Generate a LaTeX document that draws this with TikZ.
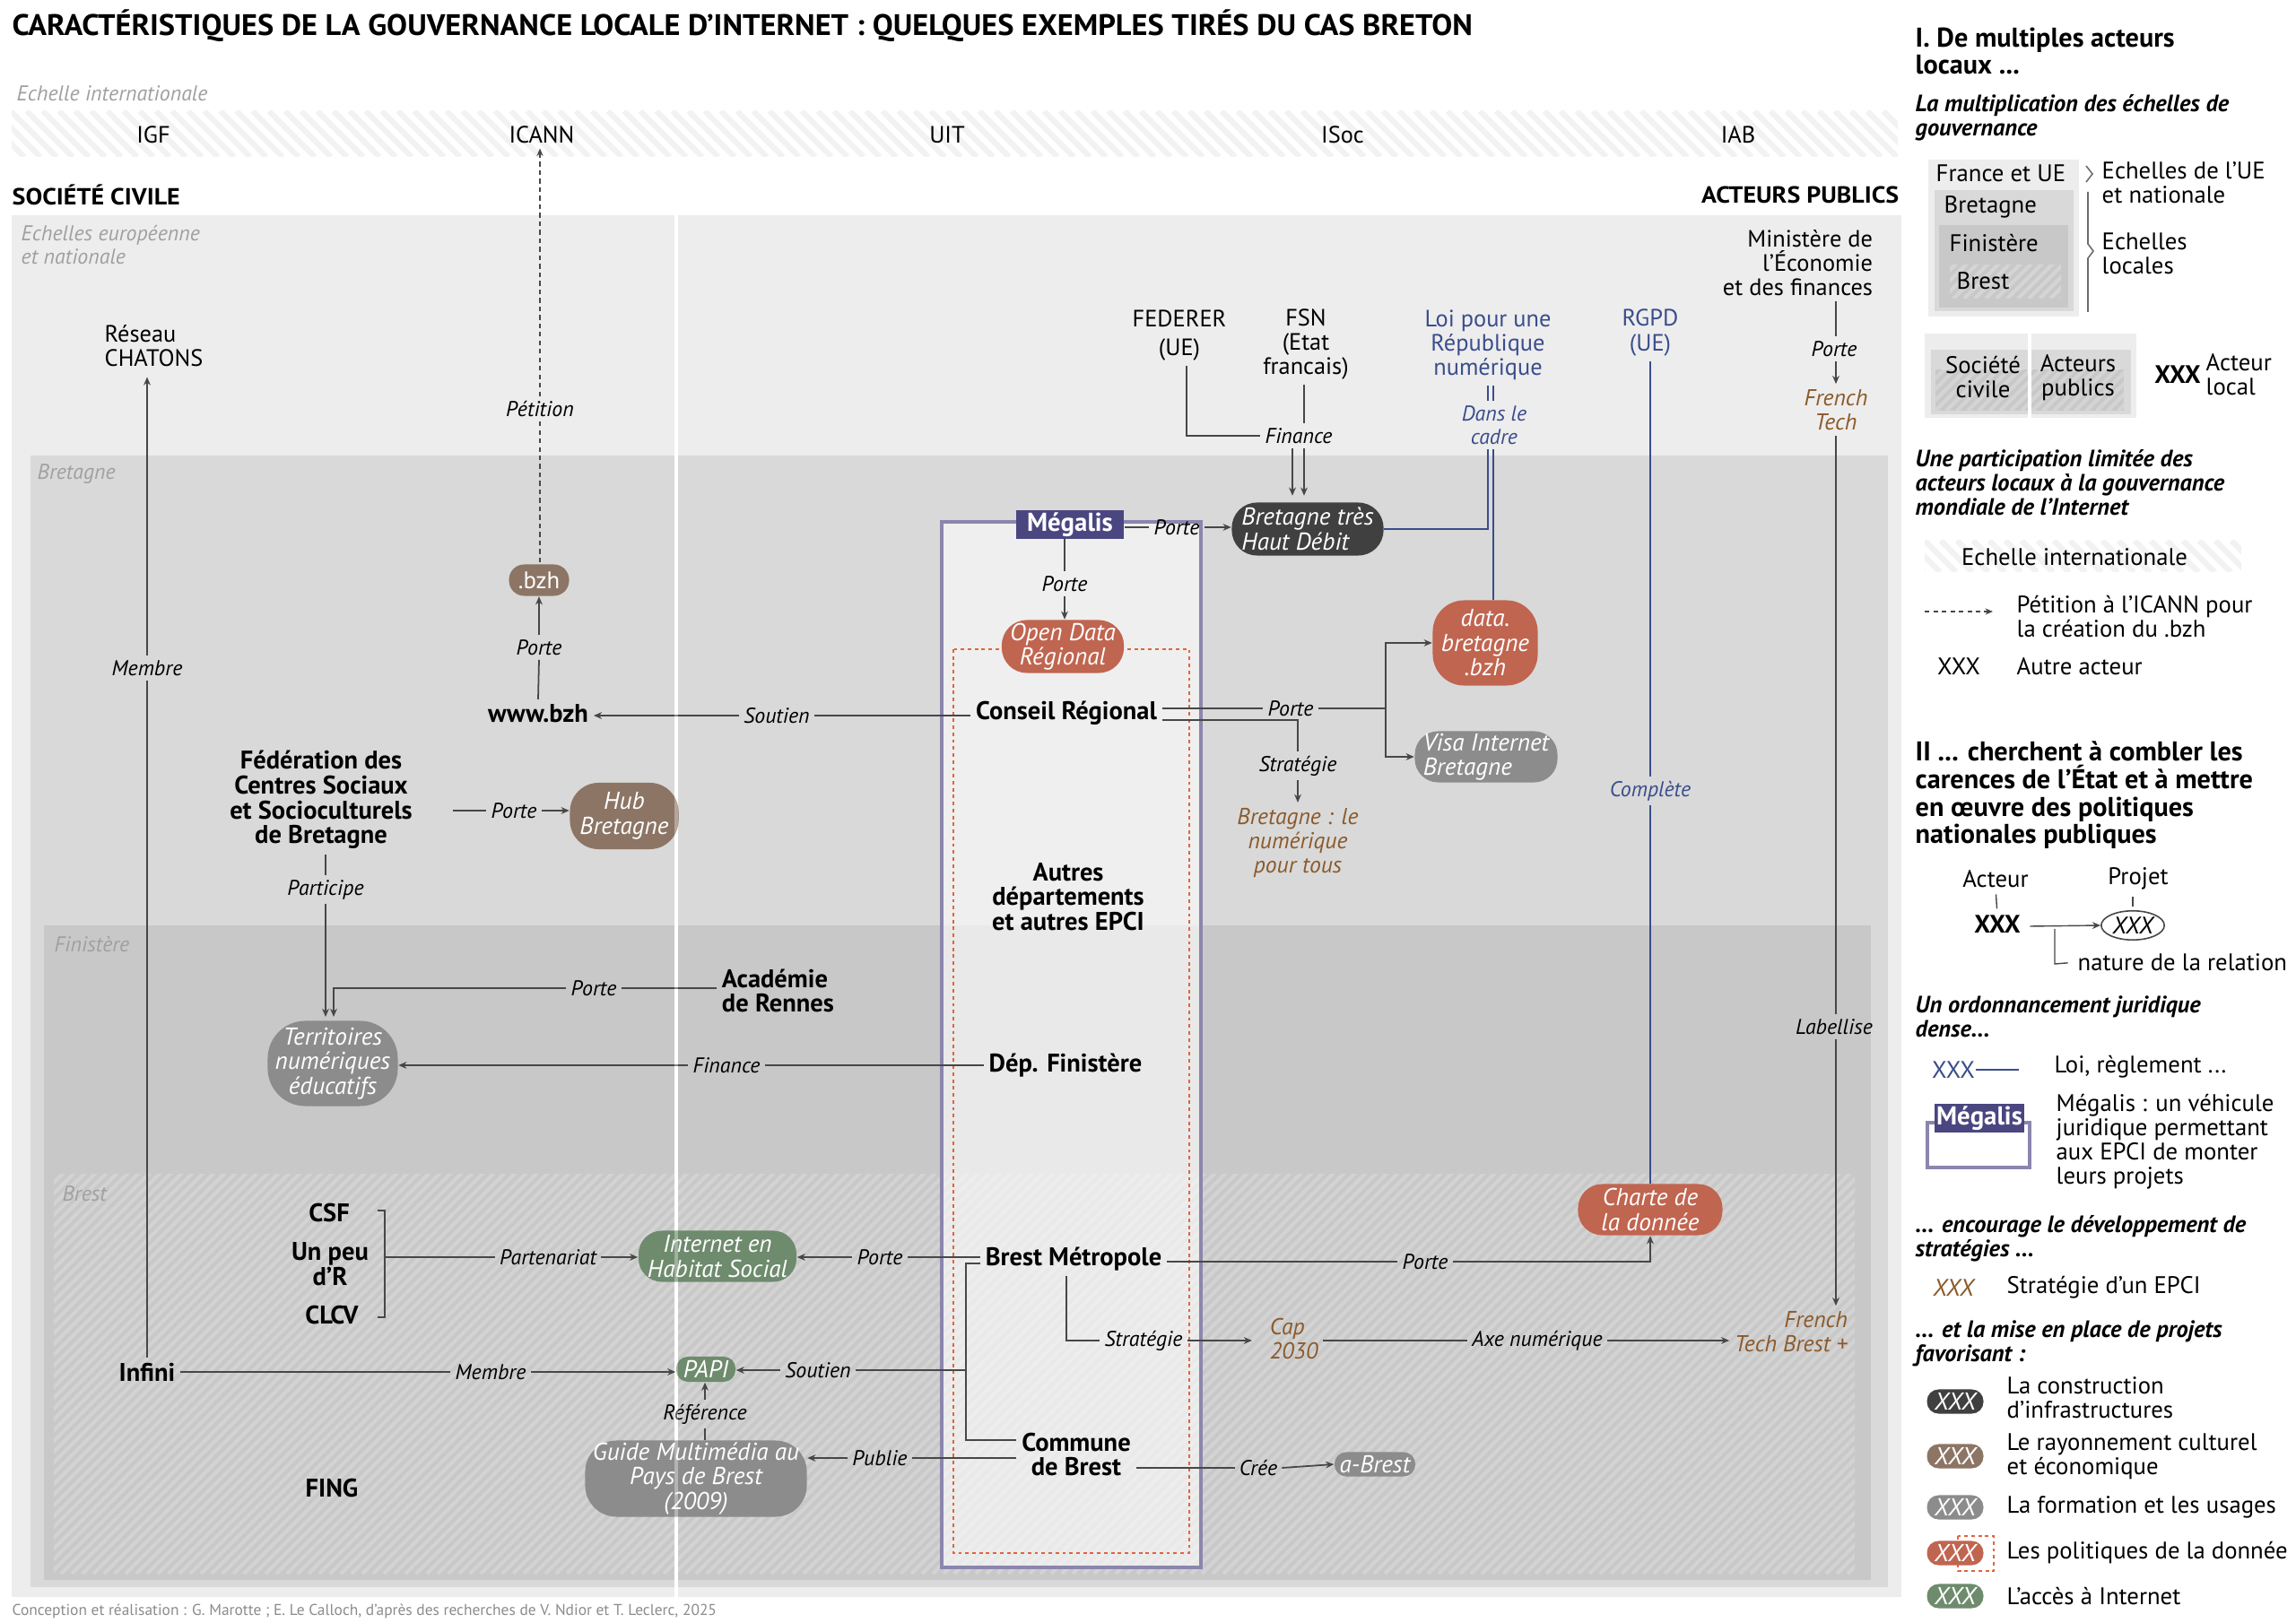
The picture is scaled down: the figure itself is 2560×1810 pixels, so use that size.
\documentclass[tikz,border=0pt]{standalone}
\usepackage{graphicx}
\usepackage{fontspec}
\setmainfont{PT Sans}
\usetikzlibrary{arrows.meta,calc,shapes.geometric}
\def\pxu{0.28453pt}
\definecolor{bgA}{HTML}{EDEDED}
\definecolor{bgB}{HTML}{D9D9D9}
\definecolor{bgC}{HTML}{C8C8C8}
\definecolor{bandS}{HTML}{F2F2F2}
\definecolor{cInfra}{HTML}{404040}
\definecolor{cCult}{HTML}{8C7565}
\definecolor{cForm}{HTML}{8C8C8C}
\definecolor{cData}{HTML}{C06550}
\definecolor{cAcc}{HTML}{6E8B6D}
\definecolor{cLaw}{HTML}{3A4D8C}
\definecolor{cStrat}{HTML}{8B5A2B}
\definecolor{cMeg}{HTML}{4A4680}
\definecolor{cMegL}{HTML}{8A86AE}
\definecolor{cDot}{HTML}{E0653C}
\definecolor{cReg}{HTML}{A0A0A0}
\definecolor{cLine}{HTML}{474747}
\definecolor{cFoot}{HTML}{8C8C8C}
\newcommand\fLab{\fontsize{6.8}{7.4}\selectfont\itshape}
\newcommand\fAct{\fontsize{8.1}{7.9}\selectfont\bfseries}
\newcommand\fOth{\fontsize{7.5}{7.7}\selectfont}
\newcommand\fPill{\fontsize{7.75}{7.8}\selectfont\itshape}
\newcommand\fStr{\fontsize{7.3}{7.8}\selectfont\itshape}
\newcommand\fLeg{\fontsize{7.6}{7.7}\selectfont}
\newcommand\fLegH{\fontsize{8.6}{8.7}\selectfont\bfseries}
\newcommand\fLegS{\fontsize{7.5}{7.7}\selectfont\bfseries\itshape}
\tikzset{
  lbl/.style={font=\fLab, inner sep=1.3pt, text=black},
  act/.style={font=\fAct, align=center, inner sep=1.5pt},
  oth/.style={font=\fOth, align=center, inner sep=1.5pt},
  strat/.style={font=\fStr, text=cStrat, align=center, inner sep=1.5pt},
  law/.style={font=\fOth, text=cLaw, align=center, inner sep=1.5pt},
  pill/.style n args={3}{rectangle, rounded corners=#3*\pxu, minimum width=#1*\pxu, minimum height=#2*\pxu, inner sep=0pt, text=white, align=center, font=\fPill},
  infra/.style={fill=cInfra}, cult/.style={fill=cCult}, form/.style={fill=cForm},
  dat/.style={fill=cData}, acc/.style={fill=cAcc},
  ln/.style={draw=cLine, line width=0.5pt},
  arr/.style={ln, -{Stealth[length=2.6pt,width=2.2pt]}},
  petit/.style={draw=cLine, line width=0.45pt, dash pattern=on 1.5pt off 1.2pt},
  lawln/.style={draw=cLaw, line width=0.55pt},
  reg/.style={font=\fLab, text=cReg, align=left, anchor=west, inner sep=0pt},
  leg/.style={font=\fLeg, align=left, anchor=west, inner sep=0pt},
  legH/.style={font=\fLegH, align=left, anchor=west, inner sep=0pt},
  legS/.style={font=\fLegS, align=left, anchor=west, inner sep=0pt},
}
\begin{document}
\begin{tikzpicture}[x=0.01cm,y=-0.01cm]
\useasboundingbox (0,0) rectangle (2560,1810);
\fill[white] (0,0) rectangle (2560,1810);

% ---------- title and international band
\node[anchor=west, inner sep=0, font=\fontsize{9.4}{10}\selectfont\bfseries] (title) at (13,29)
  {\resizebox{463pt}{\height}{CARACTÉRISTIQUES DE LA GOUVERNANCE LOCALE D’INTERNET : QUELQUES EXEMPLES TIRÉS DU CAS BRETON}};
\node[reg] (lint) at (18,104) {Echelle internationale};
\begin{scope}
  \clip (13,124) rectangle (2116,175);
  \foreach \i in {-60,-42,...,2116} \draw[bandS, line width=1.8pt] (\i,124) -- ++(51,51);
\end{scope}
\node[oth] (igf) at (171,150) {IGF};
\node[oth] (icann) at (604,150) {ICANN};
\node[oth] (uit) at (1056,150) {UIT};
\node[oth] (isoc) at (1497,150) {ISoc};
\node[oth] (iab) at (1938,150) {IAB};

\node[anchor=west, inner sep=0, font=\fontsize{7.4}{8}\selectfont\bfseries] (socciv) at (13,217) {\resizebox{53.2pt}{\height}{SOCIÉTÉ CIVILE}};
\node[anchor=east, inner sep=0, font=\fontsize{7.4}{8}\selectfont\bfseries] (actpub) at (2118,217) {\resizebox{62.6pt}{\height}{ACTEURS PUBLICS}};

% ---------- nested scale panels
\fill[bgA] (13,240) rectangle (2120,1781);
\fill[bgB] (34,508) rectangle (2105,1770);
\fill[bgC] (49,1032) rectangle (2086,1762);
\begin{scope}
  \clip (60,1309) rectangle (2068,1755);
  \foreach \i in {-460,-448,...,2068} \draw[white, opacity=0.2, line width=1.2pt] (\i,1755) -- ++(460,-460);
\end{scope}
\node[reg] (leur) at (23,273) {Echelles européenne\\et nationale};
\node[reg] (lbre) at (41,529) {Bretagne};
\node[reg] (lfin) at (60,1053) {Finistère};
\node[reg] (lbst) at (69,1331) {Brest};

% ---------- civil society / public actors separator
\draw[white, line width=1.4pt] (754,240) -- (754,1781);

% ---------- Megalis frame and data frame
\draw[cMegL, line width=1.2pt, fill=white, fill opacity=0.6] (1050,582) rectangle (1339,1748);
\draw[cDot, line width=0.6pt, dash pattern=on 1.1pt off 1.1pt] (1063,724) rectangle (1326,1732);
\node[fill=cMeg, text=white, font=\fontsize{8.2}{8}\selectfont\bfseries, minimum width=120*\pxu, minimum height=31*\pxu, inner sep=0pt] (megalis) at (1193,585) {Mégalis};

% ---------- actors and projects
\node[oth, align=left, anchor=west, inner sep=0pt] (chatons) at (116,386) {Réseau\\CHATONS};
\node[pill={67}{35}{17}, cult, font=\fontsize{7.6}{7.8}\selectfont] (bzh) at (601,647) {.bzh};
\node[act] (www) at (600,796) {www.bzh};
\node[act] (fed) at (358,892) {Fédération des\\Centres Sociaux\\et Socioculturels\\de Bretagne};
\node[pill={121}{74}{32}, cult] (hub) at (696,910) {Hub\\Bretagne};
\node[act, align=left, anchor=west] (acad) at (799,1105) {Académie\\de Rennes};
\node[pill={145}{95}{42}, form] (terr) at (371,1186) {Territoires\\numériques\\éducatifs};
\node[act] (depfin) at (1188,1188) {Dép. Finistère};
\node[act] (autres) at (1191,1000) {Autres\\départements\\et autres EPCI};
\node[act] (conseil) at (1189,795) {Conseil Régional};
\node[pill={136}{59}{28}, dat] (odr) at (1185,721) {Open Data\\Régional};
\node[pill={169}{59}{28}, infra, align=left] (bthd) at (1458,590) {Bretagne très\\Haut Débit};
\node[oth] (federer) at (1315,374) {FEDERER\\[1.5pt](UE)};
\node[oth] (fsn) at (1456,384) {FSN\\(Etat\\francais)};
\node[law] (loi) at (1659,385) {Loi pour une\\République\\numérique};
\node[lbl, text=cLaw, align=center] (dans) at (1666,474) {Dans le\\cadre};
\node[pill={117}{95}{35}, dat] (data) at (1656,717) {data.\\bretagne\\.bzh};
\node[pill={159}{57}{26}, form, align=left] (visa) at (1657,844) {Visa Internet\\Bretagne};
\node[strat] (bnpt) at (1447,940) {Bretagne : le\\numérique\\pour tous};
\node[law] (rgpd) at (1840,371) {RGPD\\(UE)};
\node[pill={161}{57}{27}, dat] (charte) at (1840,1349) {Charte de\\la donnée};
\node[oth, align=right, anchor=east] (minist) at (2094,293) {Ministère de\\l'Économie\\et des finances};
\node[strat] (ftech) at (2047,457) {French\\Tech};
\node[strat, align=right, anchor=east] (ftb) at (2066,1485) {French\\Tech Brest +};
\node[act] (brestm) at (1197,1404) {Brest Métropole};
\node[strat, align=left, anchor=west] (cap) at (1410,1493) {Cap\\2030};
\node[act] (commune) at (1200,1622) {Commune\\de Brest};
\node[pill={90}{27}{13}, form] (abrest) at (1533,1633) {a-Brest};
\node[pill={176}{57}{26}, acc] (ihs) at (800,1401) {Internet en\\Habitat Social};
\node[act] (csf) at (367,1353) {CSF};
\node[act] (upr) at (368,1410) {Un peu\\d’R};
\node[act] (clcv) at (370,1467) {CLCV};
\node[act] (infini) at (164,1530) {Infini};
\node[pill={66}{28}{13}, acc] (papi) at (787,1527) {PAPI};
\node[pill={247}{85}{35}, form] (guide) at (776,1649) {Guide Multimédia au\\Pays de Brest\\(2009)};
\node[act] (fing) at (370,1660) {FING};

% ---------- relation labels
\node[lbl] (lMemb) at (164,745) {Membre};
\node[lbl] (lPet) at (602,456) {Pétition};
\node[lbl] (lP1) at (601,722) {Porte};
\node[lbl] (lSout) at (866,798) {Soutien};
\node[lbl] (lP2) at (573,904) {Porte};
\node[lbl] (lPart) at (363,992) {Participe};
\node[lbl] (lP3) at (662,1102) {Porte};
\node[lbl] (lFin) at (810,1188) {Finance};
\node[lbl] (lP4) at (1312,588) {Porte};
\node[lbl] (lP5) at (1187,651) {Porte};
\node[lbl] (lFin2) at (1448,486) {Finance};
\node[lbl] (lP6) at (1439,790) {Porte};
\node[lbl] (lStrat) at (1447,854) {Stratégie};
\node[lbl, text=cLaw] (lComp) at (1840,882) {Complète};
\node[lbl] (lP7) at (2045,389) {Porte};
\node[lbl] (lLab) at (2045,1145) {Labellise};
\node[lbl] (lP8) at (1589,1407) {Porte};
\node[lbl] (lStrat2) at (1275,1495) {Stratégie};
\node[lbl] (lAxe) at (1714,1495) {Axe numérique};
\node[lbl] (lCree) at (1403,1637) {Crée};
\node[lbl] (lP9) at (981,1402) {Porte};
\node[lbl] (lSout2) at (912,1528) {Soutien};
\node[lbl] (lPub) at (981,1626) {Publie};
\node[lbl] (lRef) at (786,1577) {Référence};
\node[lbl] (lPart2) at (611,1402) {Partenariat};
\node[lbl] (lMemb2) at (547,1530) {Membre};

% ---------- helper coordinates
\coordinate (fedE) at (505,904);
\coordinate (fa) at (1441,0);
\coordinate (fb) at (1454,0);
\coordinate (fe) at (1323,0);
\coordinate (lw1) at (1659,0);
\coordinate (lw2) at (1665,0);
\coordinate (pbr) at (1545,790);
\coordinate (sbr) at (1447,803);
\coordinate (mx) at (2047,0);
\coordinate (s2) at (1189,1495);
\coordinate (bkt) at (1077,1409);
\coordinate (bkm) at (1077,1528);
\coordinate (bkb) at (1077,1606);
\coordinate (cb1) at (421,1350);
\coordinate (cb2) at (429,1350);
\coordinate (cb3) at (429,1469);
\coordinate (cb4) at (421,1469);
\coordinate (cbm) at (429,1402);
\coordinate (terrA) at (363,1134);
\coordinate (terrB) at (372,1134);

% ---------- connectors
\draw[ln] (lMemb.south) -- (lMemb.south |- infini.north);
\draw[arr, shorten >=3pt] (lMemb.north) -- (lMemb.north |- chatons.south);
\draw[petit] (lPet.south) -- (lPet.south |- bzh.north);
\draw[petit, -{Stealth[length=2.4pt,width=2pt]}] (lPet.north) -- (lPet.north |- icann.south);
\draw[ln] (www.north) -- (lP1.south);
\draw[arr] (lP1.north) -- (bzh.south);
\draw[ln] (conseil.west |- lSout.east) -- (lSout.east);
\draw[arr] (lSout.west) -- (www.east |- lSout.west);
\draw[ln] (fedE) -- (lP2.west);
\draw[arr] (lP2.east) -- (hub.west |- lP2.east);
\draw[ln] (lPart.north |- fed.south) -- (lPart.north);
\draw[arr] (lPart.south) -- (terrA);
\draw[ln] (acad.west |- lP3.east) -- (lP3.east);
\draw[arr] (lP3.west) -| (terrB);
\draw[ln] (depfin.west) -- (lFin.east);
\draw[arr] (lFin.west) -- (terr.east |- lFin.west);
\draw[ln] (megalis.east |- lP4.west) -- (lP4.west);
\draw[arr] (lP4.east) -- (bthd.west |- lP4.east);
\draw[ln] (lP5.north |- megalis.south) -- (lP5.north);
\draw[arr] (lP5.south) -- (lP5.south |- odr.north);
\draw[ln] (fe |- federer.south) |- (lFin2.west);
\draw[ln] (fb |- fsn.south) -- (fb |- lFin2.north);
\draw[arr, shorten >=2pt] (fa |- lFin2.south) -- (fa |- bthd.north);
\draw[arr, shorten >=2pt] (fb |- lFin2.south) -- (fb |- bthd.north);
\draw[lawln] (lw1 |- loi.south) -- (lw1 |- dans.north);
\draw[lawln] (lw2 |- loi.south) -- (lw2 |- dans.north);
\draw[lawln] (lw1 |- dans.south) |- (bthd.east);
\draw[lawln] (lw2 |- dans.south) -- (lw2 |- data.north);
\draw[ln] (conseil.east |- lP6.west) -- (lP6.west);
\draw[ln] (lP6.east) -- (pbr);
\draw[arr] (pbr) |- (data.west);
\draw[arr] (pbr) |- (visa.west);
\draw[ln] (conseil.east |- sbr) -- (sbr) -- (lStrat.north);
\draw[arr] (lStrat.south) -- (bnpt.north);
\draw[lawln] (rgpd.south) -- (lComp.north);
\draw[lawln] (lComp.south) -- (charte.north);
\draw[ln] (mx |- minist.south) -- (lP7.north -| mx);
\draw[arr] (lP7.south -| mx) -- (mx |- ftech.north);
\draw[ln] (mx |- ftech.south) -- (lLab.north -| mx);
\draw[arr] (lLab.south -| mx) -- (mx |- ftb.north);
\draw[ln] (brestm.east |- lP8.west) -- (lP8.west);
\draw[arr] (lP8.east) -| (charte.south);
\draw[ln] (s2 |- brestm.south) -- (s2) -- (lStrat2.west);
\draw[arr, shorten >=4pt] (lStrat2.east) -- (cap.west |- lStrat2.east);
\draw[ln] (cap.east |- lAxe.west) -- (lAxe.west);
\draw[arr] (lAxe.east) -- (ftb.west |- lAxe.east);
\draw[ln] (commune.east |- lCree.west) -- (lCree.west);
\draw[arr] (lCree.east) -- (abrest.west);
\draw[ln] (brestm.west |- lP9.east) -- (lP9.east);
\draw[arr] (lP9.west) -- (ihs.east |- lP9.west);
\draw[ln] (brestm.west |- bkt) -- (bkt) -- (bkb) -- (commune.west |- bkb);
\draw[ln] (bkm) -- (lSout2.east);
\draw[arr] (lSout2.west) -- (papi.east |- lSout2.west);
\draw[ln] (commune.west |- lPub.east) -- (lPub.east);
\draw[arr] (lPub.west) -- (guide.east |- lPub.west);
\draw[ln] (lRef.south) -- (lRef.south |- guide.north);
\draw[arr] (lRef.north) -- (lRef.north |- papi.south);
\draw[ln] (cb1) -- (cb2) -- (cb3) -- (cb4);
\draw[ln] (cbm) -- (lPart2.west);
\draw[arr] (lPart2.east) -- (ihs.west |- lPart2.east);
\draw[ln] (infini.east) -- (lMemb2.west);
\draw[arr] (lMemb2.east) -- (papi.west |- lMemb2.east);

% faint continuation of the separator across the nodes
\draw[white, line width=1.2pt, opacity=0.35] (754,240) -- (754,1781);

% ---------- footer
\node[anchor=west, inner sep=0, text=cFoot, font=\fontsize{4.95}{5}\selectfont] (foot) at (13,1797)
  {Conception et réalisation : G. Marotte ; E. Le Calloch, d’après des recherches de V. Ndior et T. Leclerc, 2025};

% ================= LEGEND =================
\node[legH] (h1) at (2135,57) {I. De multiples acteurs\\locaux ...};
\node[legS] (s1) at (2135,131) {La multiplication des échelles de\\gouvernance};
\fill[bgA] (2150,178) rectangle (2318,353);
\fill[bgB] (2157,212) rectangle (2312,347);
\fill[bgC] (2162,251) rectangle (2306,343);
\begin{scope}
  \clip (2174,296) rectangle (2298,333);
  \foreach \i in {2130,2142,...,2300} \draw[white, opacity=0.25, line width=1.2pt] (\i,333) -- ++(40,-40);
\end{scope}
\node[leg] (kfr) at (2158,193) {France et UE};
\node[leg] (kbr) at (2167,231) {Bretagne};
\node[leg] (kfi) at (2173,271) {Finistère};
\node[leg] (kbs) at (2181,313) {Brest};
\draw[cLine!80, line width=0.45pt] (2326,185) -- (2333,194) -- (2326,203);
\draw[cLine!80, line width=0.45pt] (2328,214) -- (2328,272) -- (2334,280) -- (2328,288) -- (2328,348);
\node[leg] (kue) at (2343,204) {Echelles de l’UE\\et nationale};
\node[leg] (kloc) at (2343,283) {Echelles\\locales};

\fill[bgA] (2146,372) rectangle (2382,466);
\fill[bgB] (2153,390) rectangle (2376,462);
\begin{scope}
  \clip (2158,412) rectangle (2368,458);
  \fill[bgC] (2158,412) rectangle (2368,458);
  \foreach \i in {2110,2122,...,2370} \draw[white, opacity=0.22, line width=1.2pt] (\i,458) -- ++(50,-50);
\end{scope}
\draw[white, line width=1pt] (2263,372) -- (2263,466);
\node[leg, anchor=center, align=center] (ksc) at (2211,421) {Société\\civile};
\node[leg, anchor=center, align=center] (kap) at (2317,421) {Acteurs\\publics};
\node[leg, anchor=center, font=\fontsize{8}{8}\selectfont\bfseries] (kxa) at (2428,418) {XXX};
\node[leg] (kal) at (2459,418) {Acteur\\local};

\node[legS] (s2t) at (2135,538) {Une participation limitée des\\acteurs locaux à la gouvernance\\mondiale de l’Internet};
\begin{scope}
  \clip (2146,603) rectangle (2499,638);
  \foreach \i in {2110,2128,...,2500} \draw[bandS, line width=1.8pt] (\i,603) -- ++(35,35);
\end{scope}
\node[leg, anchor=center] (kei) at (2313,621) {Echelle internationale};
\coordinate (kpa) at (2146,682);
\coordinate (kpb) at (2222,682);
\draw[petit, -{Stealth[length=2.4pt,width=2pt]}] (kpa) -- (kpb);
\node[leg] (kpet) at (2248,688) {Pétition à l’ICANN pour\\la création du .bzh};
\node[leg, anchor=center] (kxo) at (2184,743) {XXX};
\node[leg] (kaa) at (2248,743) {Autre acteur};

\node[legH] (h2) at (2135,887) {II ... cherchent à combler les\\carences de l’État et à mettre\\en œuvre des politiques\\nationales publiques};
\node[leg, anchor=center] (kact) at (2225,980) {Acteur};
\node[leg, anchor=center] (kproj) at (2384,980) {Projet};
\node[leg, anchor=center, font=\fontsize{8}{8}\selectfont\bfseries] (kxb) at (2227,1031) {XXX};
\node[ellipse, draw=cLine, line width=0.45pt, inner sep=0.6pt, font=\fontsize{7.6}{7.6}\selectfont\itshape] (kxp) at (2378,1032) {XXX};
\draw[ln, line width=0.4pt, shorten <=2pt, shorten >=2pt] (kact.south) -- (kxb.north);
\draw[ln, line width=0.4pt, shorten <=2pt, shorten >=1pt] (kproj.south -| kxp.north) -- (kxp.north);
\draw[arr, line width=0.4pt] (kxb.east) ++(10,2) -- (kxp.west);
\coordinate (kbr1) at (2291,1036);
\coordinate (kbr2) at (2291,1075);
\node[leg] (knat) at (2316,1073) {nature de la relation};
\draw[ln, line width=0.4pt, shorten >=3pt] (kbr1) -- (kbr2) -- (knat.west);

\node[legS] (s3) at (2135,1134) {Un ordonnancement juridique\\dense...};
\node[leg, anchor=center, text=cLaw] (kloi) at (2178,1193) {XXX};
\draw[lawln] (kloi.east) -- ++(48,0);
\node[leg] (kloit) at (2290,1190) {Loi, règlement ...};
\draw[cMegL, line width=1pt, fill=white] (2149,1252) rectangle (2263,1302);
\node[fill=cMeg, text=white, font=\fontsize{8.2}{8}\selectfont\bfseries, minimum width=99*\pxu, minimum height=32*\pxu, inner sep=0pt] (kmeg) at (2207,1247) {Mégalis};
\node[leg] (kmegt) at (2292,1273) {Mégalis : un véhicule\\juridique permettant\\aux EPCI de monter\\leurs projets};

\node[legS] (s4) at (2135,1381) {... encourage le développement de\\stratégies ...};
\node[leg, anchor=center, text=cStrat, font=\fontsize{7.6}{7.6}\selectfont\itshape] (kstr) at (2178,1436) {XXX};
\node[leg] (kstrt) at (2237,1436) {Stratégie d’un EPCI};

\node[legS] (s5) at (2135,1498) {... et la mise en place de projets\\favorisant :};
\draw[cDot, line width=0.6pt, dash pattern=on 1.1pt off 1.1pt] (2183,1713) rectangle (2223,1752);
\node[pill={63}{27}{13}, infra] (kp1) at (2180,1563) {XXX};
\node[pill={63}{27}{13}, cult] (kp2) at (2180,1624) {XXX};
\node[pill={63}{27}{13}, form] (kp3) at (2180,1681) {XXX};
\node[pill={63}{27}{13}, dat] (kp4) at (2180,1732) {XXX};
\node[pill={63}{27}{13}, acc] (kp5) at (2180,1780) {XXX};
\node[leg] (kt1) at (2237,1559) {La construction\\d’infrastructures};
\node[leg] (kt2) at (2237,1624) {Le rayonnement culturel\\et économique};
\node[leg] (kt3) at (2237,1681) {La formation et les usages};
\node[leg] (kt4) at (2237,1732) {Les politiques de la donnée};
\node[leg] (kt5) at (2237,1780) {L’accès à Internet};
\end{tikzpicture}
\end{document}
